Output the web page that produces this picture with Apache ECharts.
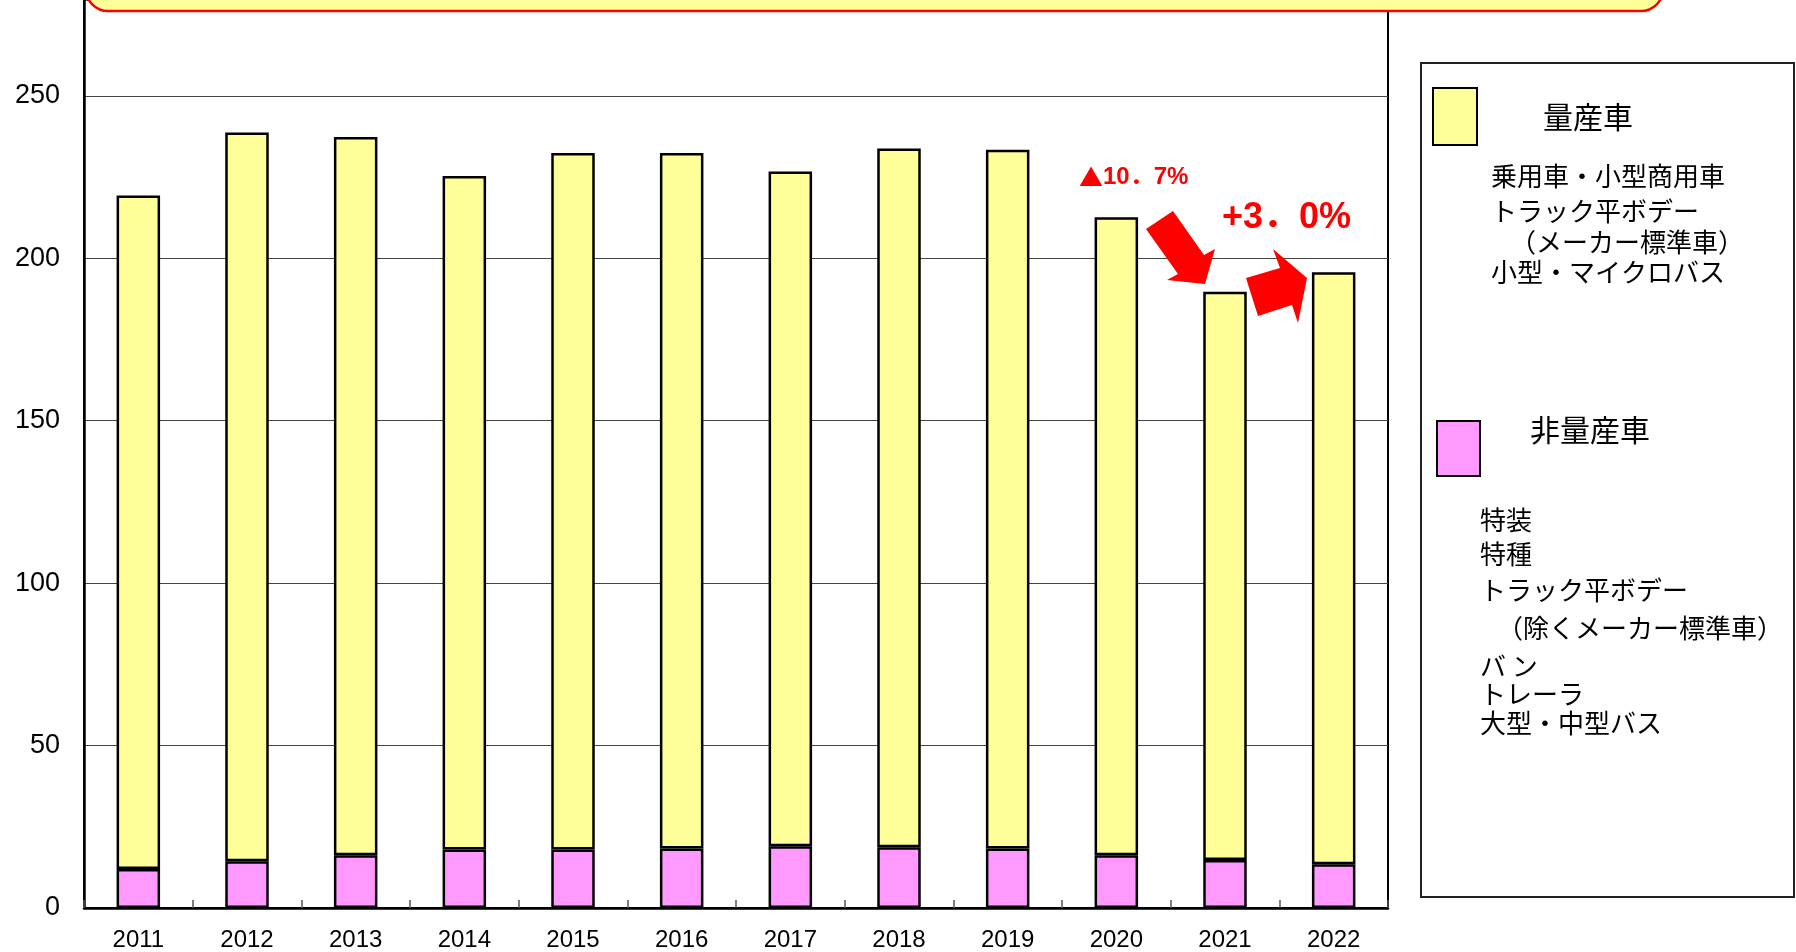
<!DOCTYPE html>
<html>
<head>
<meta charset="utf-8">
<script src="https://cdn.jsdelivr.net/npm/echarts@6/dist/echarts.min.js"></script>
<style>
html, body { margin: 0; padding: 0; background: #fff; }
#main { width: 1796px; height: 952px; }
</style>
</head>
<body>
<div id="main"></div>
<script>
// データ
var years = ['2011', '2012', '2013', '2014', '2015', '2016', '2017', '2018', '2019', '2020', '2021', '2022'];
var nonMass = [12.0, 14.4, 16.2, 18.0, 18.0, 18.3, 19.0, 18.7, 18.3, 16.2, 14.8, 13.5];
var mass = [207.3, 224.3, 221.1, 207.3, 214.4, 214.1, 207.7, 215.1, 215.1, 196.4, 174.9, 182.2];
var yTickLabels = [0, 50, 100, 150, 200, 250];

var massItems = ['乗用車・小型商用車', 'トラック平ボデー', '（メーカー標準車）', '小型・マイクロバス'];
var nonMassItems = ['特装', '特種', 'トラック平ボデー', '（除くメーカー標準車）', 'バ ン', 'トレーラ', '大型・中型バス'];

var cjk = '"Noto Sans CJK JP", sans-serif';
var mixed = '"Liberation Sans", "Noto Sans CJK JP", sans-serif';
var num = '"Liberation Sans", Arial, sans-serif';

function txt(s, x, y, size, color, weight, family) {
    return {
        type: 'text', x: x, y: y, z: 20,
        style: { text: s, fontSize: size, fontFamily: family || cjk, fontWeight: weight || 'normal',
                 fill: color || '#000', verticalAlign: 'middle' }
    };
}

var down = txt('{tri|▲}10．7%', 1079, 177, 24, '#ff0000', 'bold', mixed);
down.style.rich = { tri: { fontFamily: cjk, fontSize: 24, fill: '#ff0000' } };

var graphics = [
    // 上部の枠（上が切れている）
    { type: 'rect', z: 10, shape: { x: 86, y: -80, width: 1577, height: 91, r: 22 },
      style: { fill: '#ffff99', stroke: '#ff0000', lineWidth: 2.5 } },
    // 凡例枠
    { type: 'rect', z: 10, shape: { x: 1421, y: 63, width: 373, height: 834 },
      style: { fill: '#fff', stroke: '#222', lineWidth: 2 } },
    { type: 'rect', z: 15, shape: { x: 1433, y: 88, width: 44, height: 57 },
      style: { fill: '#ffff99', stroke: '#000', lineWidth: 2 } },
    { type: 'rect', z: 15, shape: { x: 1437, y: 421, width: 43, height: 55 },
      style: { fill: '#ff99ff', stroke: '#000', lineWidth: 2 } },
    txt('量産車', 1543, 117, 30),
    txt('非量産車', 1530, 430, 30),
    // 矢印
    { type: 'polygon', z: 20, shape: { points: [[1146, 229], [1173, 211], [1204, 255], [1215, 249], [1205, 284], [1167, 280], [1178, 274]] },
      style: { fill: '#ff0000' } },
    { type: 'polygon', z: 20, shape: { points: [[1246, 278], [1280, 268], [1273, 249], [1307, 278], [1298, 323], [1292, 305], [1258, 316]] },
      style: { fill: '#ff0000' } },
    down,
    txt('+3．0%', 1222, 218, 36, '#ff0000', 'bold', mixed)
];

var massY = [176, 211, 242, 272];
var massX = [1491, 1491, 1510, 1491];
massItems.forEach(function (s, i) { graphics.push(txt(s, massX[i], massY[i], 26)); });
var nonY = [520, 554, 590, 628, 666, 694, 723];
var nonX = [1480, 1480, 1480, 1497, 1480, 1480, 1480];
nonMassItems.forEach(function (s, i) { graphics.push(txt(s, nonX[i], nonY[i], 26)); });

var chart = echarts.init(document.getElementById('main'));
var option = {
    backgroundColor: '#fff',
    animation: false,
    grid: {
        left: 84, right: 408, top: 0, bottom: 44,
        show: true, borderColor: '#000', borderWidth: 2, backgroundColor: 'transparent'
    },
    xAxis: {
        type: 'category',
        data: years,
        axisLine: { lineStyle: { color: '#000', width: 2.5 } },
        axisTick: { show: true, inside: true, length: 8, lineStyle: { color: '#555', width: 1.5 } },
        axisLabel: { fontSize: 24, fontFamily: num, color: '#000', margin: 20 }
    },
    yAxis: {
        type: 'value',
        min: 0, max: 279.5, interval: 50,
        axisLine: { show: true, lineStyle: { color: '#000', width: 2.5 } },
        axisTick: { show: false },
        splitLine: { lineStyle: { color: '#444', width: 1.2 } },
        axisLabel: {
            fontSize: 27, fontFamily: num, color: '#000', margin: 24,
            formatter: function (v) { return yTickLabels.indexOf(v) >= 0 ? String(v) : ''; }
        }
    },
    series: [
        {
            name: '非量産車', type: 'bar', stack: 'total', barWidth: 43.5,
            data: nonMass,
            itemStyle: { color: '#ff99ff', borderColor: '#000', borderWidth: 2.5 }
        },
        {
            name: '量産車', type: 'bar', stack: 'total', barWidth: 43.5,
            data: mass,
            itemStyle: { color: '#ffff99', borderColor: '#000', borderWidth: 2.5 }
        }
    ],
    graphic: graphics
};
chart.setOption(option);
</script>
</body>
</html>
